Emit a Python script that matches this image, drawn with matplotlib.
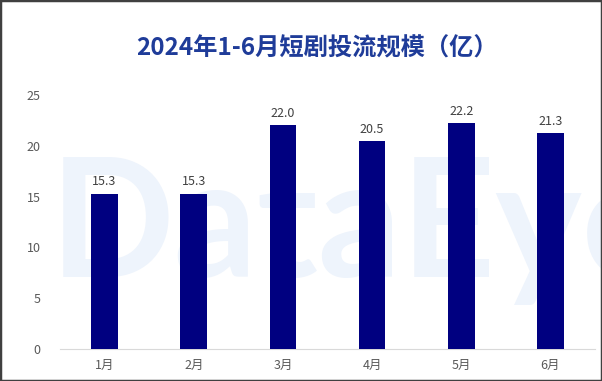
import matplotlib.pyplot as plt
from matplotlib.patches import Rectangle

plt.rcParams['font.family'] = ['Noto Sans CJK SC', 'DejaVu Sans']

# data
months = ["1月", "2月", "3月", "4月", "5月", "6月"]
values = [15.3, 15.3, 22.0, 20.5, 22.2, 21.3]
yticks = [0, 5, 10, 15, 20, 25]
title = "2024年1-6月短剧投流规模（亿）"

W, H = 602, 381
fig = plt.figure(figsize=(W / 100, H / 100), dpi=100)
fig.patch.set_facecolor("white")

ax = fig.add_axes([60 / W, 1 - 349 / H, 535 / W, (349 - 95) / H])
ax.set_facecolor("none")

# watermark, sits under the bars
ax.text(50 / W, 1 - 277 / H, "DataEye", transform=fig.transFigure,
        fontsize=118, fontweight="bold", family="Lato", color="#EEF4FC",
        zorder=1, va="baseline", clip_on=False)

x = range(len(months))
ax.bar(x, values, width=0.30, color="#000080", zorder=3)
for xi, v in zip(x, values):
    ax.text(xi, v + 0.5, f"{v:.1f}", ha="center", va="bottom",
            fontsize=9, color="#404040", zorder=4)

ax.set_xlim(-0.5, len(months) - 0.5)
ax.set_ylim(0, 25)
ax.set_yticks(yticks)
ax.set_xticks(list(x))
ax.set_xticklabels(months)
ax.tick_params(axis="both", length=0, labelsize=9, colors="#595959")
ax.tick_params(axis="y", pad=14)
ax.tick_params(axis="x", pad=7)
for s in ["top", "right", "left"]:
    ax.spines[s].set_visible(False)
ax.spines["bottom"].set_color("#D9D9D9")
ax.spines["bottom"].set_zorder(2)

fig.text(317 / W, 1 - 48 / H, title, ha="center", va="center", fontsize=17.5,
         fontweight="bold", color="#1F3C99")

# outer border
fig.patches.append(Rectangle((0, 0), 1, 1, transform=fig.transFigure,
                             fill=False, edgecolor="#404040", linewidth=2.5))

fig.savefig("out.png", dpi=100)
